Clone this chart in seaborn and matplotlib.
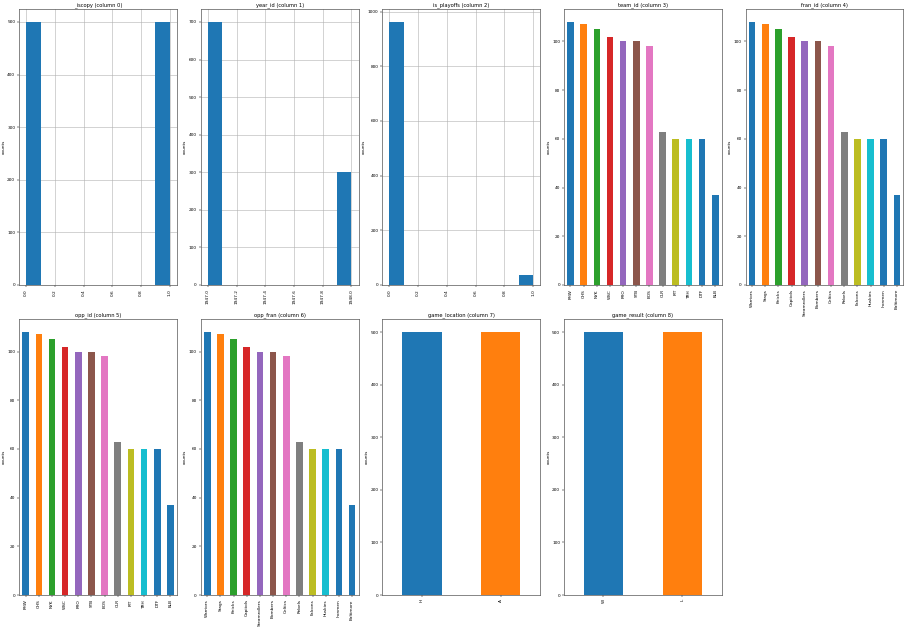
import numpy as np
import pandas as pd
import matplotlib
matplotlib.use('Agg')
import matplotlib.pyplot as plt
import seaborn as sns
from matplotlib.ticker import FormatStrFormatter

# ---------------------
# dados
# ---------------------
iscopy_vals = [0, 1]
iscopy_counts = [500, 500]

year_vals = [1947, 1948]
year_counts = [700, 300]

playoffs_vals = [0, 1]
playoffs_counts = [962, 38]

team_ids = ['PHW', 'CHS', 'NYK', 'WSC', 'PRO', 'STB', 'BOS', 'CLR', 'PIT', 'TRH', 'DTF', 'BLB']
fran_ids = ['Warriors', 'Stags', 'Knicks', 'Capitols', 'Steamrollers', 'Bombers', 'Celtics',
            'Rebels', 'Falcons', 'Huskies', 'Ironmen', 'Baltimore']
team_counts = [108, 107, 105, 102, 100, 100, 98, 63, 60, 60, 60, 37]

location_vals = ['H', 'A']
location_counts = [500, 500]

result_vals = ['W', 'L']
result_counts = [500, 500]

# ---------------------
# estilo
# ---------------------
plt.rcParams.update({
    'font.size': 3.05,
    'axes.titlesize': 3.7,
    'axes.titlepad': 2,
    'axes.labelpad': 1.2,
    'axes.linewidth': 0.5,
    'axes.edgecolor': '#555555',
    'xtick.major.size': 1.5,
    'ytick.major.size': 1.5,
    'xtick.major.width': 0.35,
    'ytick.major.width': 0.35,
    'xtick.major.pad': 1.5,
    'ytick.major.pad': 1.3,
})

tab10 = sns.color_palette('tab10', 10)
cores = list(tab10) + [tab10[0], tab10[0]]

fig, axes = plt.subplots(2, 5, figsize=(9.08, 6.29), dpi=100)
fig.subplots_adjust(left=0.021, right=0.995, top=0.986, bottom=0.054, wspace=0.15, hspace=0.123)
axes = axes.ravel()


def histograma(ax, vals, counts, titulo, lo, hi):
    sns.histplot(x=vals, weights=counts, bins=10, binrange=(lo, hi), ax=ax,
                 color=tab10[0], alpha=1, linewidth=0)
    ax.grid(True, color='#b0b0b0', linewidth=0.4)
    ax.set_axisbelow(True)
    ax.set_xticks(np.linspace(lo, hi, 6))
    ax.xaxis.set_major_formatter(FormatStrFormatter('%.1f'))
    pad = 0.05 * (hi - lo)
    ax.set_xlim(lo - pad, hi + pad)
    ax.set_ylim(0, max(counts) * 1.05)
    ax.set_title(titulo)
    ax.set_xlabel('')
    ax.set_ylabel('counts')
    ax.tick_params(axis='x', labelrotation=90)


def barras(ax, labels, counts, titulo):
    sns.barplot(x=labels, y=counts, hue=labels, palette=cores[:len(labels)], legend=False,
                width=0.5, saturation=1, ax=ax)
    ax.set_xlim(-0.5, len(labels) - 0.5)
    ax.set_ylim(0, max(counts) * 1.05)
    ax.set_title(titulo)
    ax.set_xlabel('')
    ax.set_ylabel('counts')
    ax.tick_params(axis='x', labelrotation=90)


histograma(axes[0], iscopy_vals, iscopy_counts, '_iscopy (column 0)', 0, 1)
histograma(axes[1], year_vals, year_counts, 'year_id (column 1)', 1947, 1948)
histograma(axes[2], playoffs_vals, playoffs_counts, 'is_playoffs (column 2)', 0, 1)
barras(axes[3], team_ids, team_counts, 'team_id (column 3)')
barras(axes[4], fran_ids, team_counts, 'fran_id (column 4)')
barras(axes[5], team_ids, team_counts, 'opp_id (column 5)')
barras(axes[6], fran_ids, team_counts, 'opp_fran (column 6)')
barras(axes[7], location_vals, location_counts, 'game_location (column 7)')
barras(axes[8], result_vals, result_counts, 'game_result (column 8)')
axes[9].remove()

fig.savefig('out.png', dpi=100)
